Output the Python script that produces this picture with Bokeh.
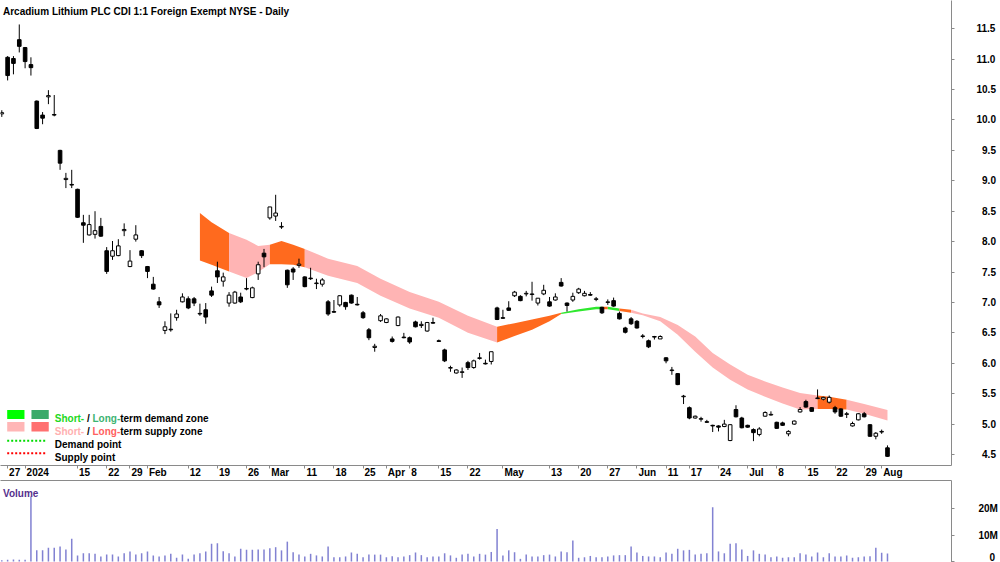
import numpy as np
import pandas as pd
from bokeh.plotting import figure
from bokeh.layouts import column
from bokeh.models import Range1d, LinearAxis, FixedTicker, Label
from bokeh.embed import file_html
from bokeh.resources import INLINE

# ---------------- data ----------------
holidays = ["2023-12-25", "2023-12-26", "2024-01-01", "2024-01-26",
            "2024-03-29", "2024-04-01", "2024-04-25", "2024-06-10"]
dates = [d.strftime("%Y-%m-%d") for d in pd.bdate_range("2023-12-22", "2024-08-02")
         if d.strftime("%Y-%m-%d") not in holidays]

opens = [10.10, 11.03, 11.01, 11.32, 11.19, 10.91, 10.31, 10.08, 10.38, 10.09,
         9.50, 9.02, 8.94, 8.86, 8.31, 8.11, 8.12, 8.25, 7.85, 7.76,
         7.77, 8.18, 7.59, 8.04, 7.85, 7.59, 7.30, 7.01, 6.54, 6.56,
         6.75, 7.01, 7.06, 7.06, 6.82, 6.88, 7.19, 7.52, 7.35, 6.99,
         6.99, 7.09, 7.23, 7.08, 7.47, 7.81, 8.39, 8.42, 8.24, 7.53,
         7.55, 7.61, 7.42, 7.40, 7.31, 7.30, 7.01, 6.85, 6.96, 7.00,
         7.12, 6.97, 6.83, 6.55, 6.26, 6.70, 6.67, 6.40, 6.62, 6.43,
         6.42, 6.68, 6.62, 6.53, 6.67, 6.37, 6.22, 5.92, 5.84, 5.85,
         6.01, 5.93, 6.08, 6.00, 6.03, 6.91, 6.75, 6.91, 7.11, 7.10,
         7.14, 7.13, 6.99, 7.14, 7.01, 7.04, 7.33, 6.99, 7.04, 7.16,
         7.11, 7.13, 7.05, 6.92, 7.00, 7.03, 6.82, 6.58, 6.73, 6.69,
         6.44, 6.37, 6.44, 6.40, 6.09, 5.88, 5.83, 5.45, 5.27, 5.10,
         5.08, 5.04, 4.98, 4.97, 4.96, 4.73, 5.24, 5.10, 4.98, 4.91,
         4.83, 5.13, 5.15, 5.03, 5.02, 4.84, 5.00, 5.20, 5.37, 5.27,
         5.42, 5.41, 5.36, 5.27, 5.25, 5.16, 4.97, 5.07, 5.17, 4.99,
         4.80, 4.87, 4.61]
highs = [10.16, 11.05, 11.05, 11.57, 11.20, 11.03, 10.32, 10.13, 10.49, 10.41,
         9.51, 9.13, 9.18, 8.87, 8.44, 8.44, 8.50, 8.39, 7.91, 8.01,
         8.04, 8.30, 7.86, 8.27, 7.86, 7.60, 7.42, 7.09, 6.69, 6.82,
         6.88, 7.15, 7.10, 7.09, 6.98, 6.99, 7.26, 7.67, 7.49, 7.17,
         7.19, 7.16, 7.40, 7.26, 7.67, 7.88, 8.57, 8.77, 8.32, 7.54,
         7.58, 7.72, 7.43, 7.57, 7.39, 7.40, 7.04, 7.04, 7.12, 7.01,
         7.13, 7.09, 6.86, 6.58, 6.32, 6.81, 6.74, 6.44, 6.77, 6.50,
         6.44, 6.70, 6.69, 6.68, 6.75, 6.39, 6.24, 5.96, 5.90, 5.93,
         6.04, 6.06, 6.17, 6.06, 6.19, 6.93, 6.88, 7.02, 7.19, 7.12,
         7.19, 7.34, 7.07, 7.29, 7.09, 7.15, 7.40, 7.00, 7.16, 7.24,
         7.19, 7.17, 7.09, 6.93, 7.05, 7.08, 6.85, 6.60, 6.76, 6.71,
         6.48, 6.39, 6.45, 6.46, 6.10, 5.94, 5.84, 5.48, 5.29, 5.14,
         5.12, 5.07, 4.99, 4.98, 5.07, 5.00, 5.31, 5.12, 4.99, 4.93,
         4.95, 5.21, 5.21, 5.04, 5.04, 4.90, 5.06, 5.28, 5.40, 5.28,
         5.57, 5.45, 5.47, 5.30, 5.26, 5.20, 5.04, 5.18, 5.20, 5.00,
         4.87, 4.91, 4.65]
lows = [10.05, 10.65, 10.75, 11.11, 10.85, 10.73, 9.85, 9.93, 10.26, 10.06,
        9.18, 8.88, 8.88, 8.39, 7.98, 8.10, 8.05, 8.08, 7.47, 7.70,
        7.76, 8.09, 7.58, 8.00, 7.73, 7.40, 7.21, 6.91, 6.48, 6.52,
        6.70, 7.00, 6.89, 6.94, 6.78, 6.65, 7.09, 7.32, 7.26, 6.93,
        6.98, 6.99, 7.20, 7.07, 7.37, 7.58, 8.36, 8.34, 8.21, 7.24,
        7.37, 7.57, 7.25, 7.37, 7.22, 7.26, 6.78, 6.83, 6.93, 6.88,
        6.98, 6.95, 6.73, 6.38, 6.19, 6.68, 6.66, 6.34, 6.61, 6.41,
        6.32, 6.59, 6.58, 6.52, 6.65, 6.35, 6.02, 5.86, 5.83, 5.76,
        5.89, 5.91, 6.06, 5.98, 5.98, 6.71, 6.73, 6.86, 7.09, 7.02,
        7.10, 7.03, 6.95, 7.12, 6.93, 7.03, 7.26, 6.85, 7.01, 7.14,
        7.10, 7.11, 7.02, 6.81, 6.96, 6.93, 6.72, 6.49, 6.63, 6.57,
        6.41, 6.25, 6.39, 6.40, 6.00, 5.81, 5.64, 5.33, 5.08, 5.09,
        5.04, 5.02, 4.87, 4.88, 4.95, 4.72, 5.11, 4.93, 4.94, 4.72,
        4.80, 5.12, 5.14, 4.92, 4.97, 4.80, 4.99, 5.19, 5.27, 5.20,
        5.41, 5.39, 5.34, 5.17, 5.12, 5.10, 4.96, 5.06, 5.11, 4.79,
        4.75, 4.84, 4.46]
closes = [10.12, 10.73, 10.93, 11.21, 10.96, 10.86, 9.86, 10.03, 10.40, 10.08,
          9.29, 9.04, 8.93, 8.40, 8.27, 8.28, 8.18, 8.09, 7.51, 7.85,
          7.93, 8.20, 7.68, 8.11, 7.77, 7.51, 7.22, 6.96, 6.60, 6.55,
          6.81, 7.09, 6.91, 6.99, 6.81, 6.76, 7.12, 7.42, 7.42, 7.12,
          7.17, 7.01, 7.22, 7.24, 7.62, 7.75, 8.57, 8.47, 8.25, 7.29,
          7.50, 7.63, 7.26, 7.39, 7.32, 7.37, 6.81, 6.84, 7.11, 6.93,
          6.99, 6.96, 6.75, 6.42, 6.28, 6.78, 6.73, 6.36, 6.76, 6.42,
          6.35, 6.60, 6.64, 6.67, 6.66, 6.36, 6.04, 5.93, 5.89, 5.86,
          5.93, 6.04, 6.09, 5.99, 6.19, 6.72, 6.74, 6.87, 7.17, 7.03,
          7.15, 7.14, 7.07, 7.20, 6.94, 7.09, 7.27, 6.95, 7.10, 7.22,
          7.15, 7.12, 7.06, 6.83, 7.01, 6.94, 6.73, 6.51, 6.65, 6.58,
          6.45, 6.27, 6.43, 6.44, 6.04, 5.89, 5.65, 5.46, 5.10, 5.13,
          5.09, 5.03, 4.97, 4.95, 5.00, 4.99, 5.12, 4.94, 4.95, 4.86,
          4.92, 5.19, 5.16, 4.93, 4.98, 4.88, 5.05, 5.24, 5.28, 5.21,
          5.43, 5.44, 5.44, 5.20, 5.13, 5.17, 5.01, 5.17, 5.12, 4.80,
          4.85, 4.88, 4.47]
volume_m = [0.5, 0.7, 0.8, 0.7, 0.7, 24.5, 4.2, 4.2, 5.2, 5.2,
            5.7, 4.5, 8.6, 2.3, 3.1, 3.1, 2.9, 1.9, 2.6, 2.6,
            1.9, 3.1, 3.8, 2.6, 3.1, 3.8, 2.3, 1.9, 2.3, 2.9,
            1.4, 2.6, 1.0, 2.6, 3.1, 3.8, 6.7, 6.9, 3.9, 3.1,
            1.9, 4.8, 4.4, 4.4, 4.5, 4.5, 5.0, 5.4, 4.2, 7.5,
            3.5, 2.6, 1.9, 2.9, 2.3, 1.9, 5.7, 1.6, 1.6, 1.9,
            3.4, 2.9, 1.6, 2.6, 2.6, 2.6, 1.6, 2.0, 1.6, 1.9,
            2.4, 3.4, 2.4, 1.6, 1.9, 1.9, 3.1, 2.3, 1.4, 2.6,
            2.9, 1.9, 2.9, 2.6, 3.6, 12.3, 2.3, 4.2, 3.5, 1.0,
            2.6, 1.9, 1.9, 2.4, 2.6, 1.9, 3.8, 3.5, 7.9, 1.4,
            1.6, 2.1, 1.6, 1.6, 1.9, 2.3, 2.4, 2.4, 5.7, 3.4,
            2.1, 1.9, 1.9, 1.6, 3.4, 2.9, 4.8, 4.2, 4.4, 2.6,
            2.9, 3.1, 20.5, 3.8, 3.1, 6.7, 6.9, 4.5, 2.1, 4.2,
            2.9, 2.6, 1.6, 1.9, 1.4, 1.6, 1.6, 3.1, 2.6, 1.9,
            3.4, 1.6, 3.1, 1.9, 1.9, 2.3, 1.4, 1.6, 1.9, 2.0,
            5.2, 3.3, 3.0]

# supply / demand band (trading-day index, upper and lower edge)
band_day = [34, 36, 39, 42, 44, 46, 48, 50, 52, 56, 61, 65, 70, 75, 80, 85, 88, 91, 94, 96,
            99, 102, 103, 104, 106, 108, 110, 113, 116, 119, 122, 125, 128, 131, 134, 137,
            140, 142, 145, 148, 152]
band_top = [8.47, 8.32, 8.14, 8.03, 7.93, 7.95, 8.01, 7.95, 7.88, 7.72, 7.60, 7.39, 7.17,
            7.01, 6.78, 6.60, 6.66, 6.72, 6.78, 6.83, 6.89, 6.93, 6.93, 6.93, 6.90, 6.88,
            6.82, 6.76, 6.63, 6.44, 6.17, 5.98, 5.81, 5.70, 5.60, 5.51, 5.47, 5.45, 5.40,
            5.33, 5.23]
band_bot = [7.69, 7.62, 7.51, 7.40, 7.50, 7.63, 7.63, 7.62, 7.58, 7.44, 7.32, 7.11, 6.90,
            6.75, 6.50, 6.34, 6.45, 6.55, 6.69, 6.81, 6.85, 6.89, 6.89, 6.89, 6.86, 6.83,
            6.79, 6.69, 6.47, 6.19, 5.93, 5.73, 5.57, 5.45, 5.34, 5.24, 5.25, 5.25, 5.24,
            5.17, 5.06]
zone_start = [34, 39, 46, 52, 85, 96, 103, 104, 106, 108, 140, 145]
zone_end = [39, 46, 52, 85, 96, 103, 104, 106, 108, 140, 145, 152]
zone_kind = ["long", "short", "long", "short", "long", "demand", "long", "demand",
             "long", "short", "long", "short"]

tick_dates = ["2023-12-27", "2024-01-02", "2024-01-15", "2024-01-22", "2024-01-29",
              "2024-02-01", "2024-02-12", "2024-02-19", "2024-02-26", "2024-03-01",
              "2024-03-11", "2024-03-18", "2024-03-25", "2024-04-02", "2024-04-08",
              "2024-04-15", "2024-04-22", "2024-05-01", "2024-05-13", "2024-05-20",
              "2024-05-27", "2024-06-03", "2024-06-11", "2024-06-17", "2024-06-24",
              "2024-07-01", "2024-07-08", "2024-07-15", "2024-07-22", "2024-07-29",
              "2024-08-01"]
tick_labels = ["27", "2024", "15", "22", "29", "Feb", "12", "19", "26", "Mar", "11", "18",
               "25", "Apr", "8", "15", "22", "May", "13", "20", "27", "Jun", "11", "17",
               "24", "Jul", "8", "15", "22", "29", "Aug"]
price_ticks = [4.5, 5.0, 5.5, 6.0, 6.5, 7.0, 7.5, 8.0, 8.5, 9.0, 9.5, 10.0, 10.5, 11.0, 11.5]
volume_ticks = [0, 10_000_000, 20_000_000]
volume_tick_labels = ["0", "10M", "20M"]

TITLE = "Arcadium Lithium PLC CDI 1:1 Foreign Exempt NYSE - Daily"

# ---------------- styling / layout helpers ----------------
FONT = "Liberation Sans"
GRAY = "#8a8a8a"
FSP = "\u2007"  # figure space (digit width) for right-aligned tick labels
ZONE_COL = {"long": "#ff6a1e", "short": "#ffb4b4", "demand": "#2ee82e"}

X0, PXI = 1.3, 5.833          # canvas px of day 0, px per trading day
def px2i(px):
    return (px - X0) / PXI
def py2p(py):
    return 4.5 + (455 - py) / 60.96
def py2v(py):
    return (561 - py) / 2.649 * 1e6

AW = {c: 556 for c in "0123456789"}
AW.update({"J": 556, "a": 556, "n": 611, "F": 611, "e": 556, "b": 611, "M": 833, "r": 389,
           "A": 722, "p": 611, "y": 556, "u": 611, "l": 278, "g": 611})
def tw(s, size=10):
    return sum(AW.get(c, 556) for c in s) * size / 1000.0

idx = np.arange(len(dates))
O = np.array(opens); H = np.array(highs); L = np.array(lows); C = np.array(closes)
up = C >= O
dn = ~up

xr = Range1d(px2i(0), px2i(952))

# ---------------- price figure ----------------
p = figure(width=1000, height=480, x_range=xr, y_range=Range1d(py2p(466), py2p(0)),
           output_backend="svg", toolbar_location=None,
           x_axis_location=None, y_axis_location="right",
           min_border_left=0, min_border_right=48, min_border_top=0, min_border_bottom=14)
p.grid.visible = False
p.outline_line_color = None
p.background_fill_color = "white"
p.border_fill_color = "white"

ya = p.yaxis[0]
ya.ticker = FixedTicker(ticks=price_ticks)
ya.major_label_overrides = {t: (f"{t:.1f}" if t >= 10 else FSP + f"{t:.1f}") for t in price_ticks}
ya.axis_line_color = GRAY
ya.major_tick_line_color = GRAY
ya.major_tick_out = 3
ya.major_tick_in = 0
ya.minor_tick_line_color = None
ya.major_label_standoff = 22
ya.major_label_text_font = FONT
ya.major_label_text_font_size = "10px"
ya.major_label_text_font_style = "bold"
ya.major_label_text_color = "#000000"

# x axis: tick marks
tick_idx = [dates.index(d) for d in tick_dates]
axA = LinearAxis(ticker=FixedTicker(ticks=tick_idx),
                 major_label_overrides={t: "" for t in tick_idx},
                 major_label_text_font_size="0px", major_label_standoff=0,
                 major_tick_out=3, major_tick_in=0,
                 axis_line_color=GRAY, major_tick_line_color=GRAY,
                 minor_tick_line_color=None)
p.add_layout(axA, "below")
# x axis: labels (left-aligned just right of the tick)
lab_pos = [round(t + (1.5 + tw(s) / 2) / PXI, 4) for t, s in zip(tick_idx, tick_labels)]
axB = LinearAxis(ticker=FixedTicker(ticks=lab_pos),
                 major_label_overrides={pp: s for pp, s in zip(lab_pos, tick_labels)},
                 major_label_standoff=-2, major_tick_out=0, major_tick_in=0,
                 axis_line_color=None, major_tick_line_color=None,
                 minor_tick_line_color=None,
                 major_label_text_font=FONT, major_label_text_font_size="10px",
                 major_label_text_font_style="bold", major_label_text_color="#000000")
p.add_layout(axB, "below")

# zones
for s, e, k in zip(zone_start, zone_end, zone_kind):
    sel = [j for j, d in enumerate(band_day) if s <= d <= e]
    p.varea(x=[band_day[j] for j in sel], y1=[band_bot[j] for j in sel],
            y2=[band_top[j] for j in sel], fill_color=ZONE_COL[k], fill_alpha=1.0)

# candles
p.segment(x0=idx, y0=L, x1=idx, y1=H, line_color="black", line_width=1)
p.vbar(x=idx[up], width=0.62, bottom=O[up], top=C[up], fill_color="white",
       line_color="black", line_width=1)
p.vbar(x=idx[dn], width=0.62, bottom=C[dn], top=O[dn], fill_color="black",
       line_color="black", line_width=1)

# title
p.add_layout(Label(x=px2i(2.5), y=py2p(10.7), text=TITLE, text_font=FONT,
                   text_font_size="10px", text_font_style="bold", text_color="#000000",
                   text_align="left", text_baseline="alphabetic"))

# legend (drawn as annotations in the lower left)
p.quad(left=[px2i(6.7), px2i(31)], right=[px2i(24), px2i(48.3)],
       top=[py2p(410.3)] * 2, bottom=[py2p(419.5)] * 2,
       fill_color=["#00ff00", "#3aaa6a"], line_color=None)
p.quad(left=[px2i(6.7), px2i(31)], right=[px2i(24), px2i(48.3)],
       top=[py2p(422.5)] * 2, bottom=[py2p(432)] * 2,
       fill_color=["#ffb6b6", "#ff7070"], line_color=None)
p.line(x=[px2i(6.7), px2i(45)], y=[py2p(441.3)] * 2, line_color="#00dd00",
       line_width=2, line_dash="2 2")
p.line(x=[px2i(6.7), px2i(45)], y=[py2p(453.8)] * 2, line_color="#ff0000",
       line_width=2, line_dash="2 2")

def leg_text(parts, x_px, base_py):
    x = x_px
    for txt, col in parts:
        if txt == "/":
            p.add_layout(Label(x=px2i(x + 2.78), y=py2p(base_py), text="/", text_font=FONT,
                               text_font_size="10px", text_font_style="bold",
                               text_color=col, text_align="left", text_baseline="alphabetic"))
            x += 8.34
        else:
            p.add_layout(Label(x=px2i(x), y=py2p(base_py), text=txt, text_font=FONT,
                               text_font_size="10px", text_font_style="bold",
                               text_color=col, text_align="left", text_baseline="alphabetic"))
            x += {"Short-": 29.44, "Long-": 27.77}.get(txt, 0)

leg_text([("Short-", "#22d822"), ("/", "#000000"), ("Long-", "#3cb371"),
          ("term demand zone", "#000000")], 54.3, 419.3)
leg_text([("Short-", "#ffb0b0"), ("/", "#000000"), ("Long-", "#ff6060"),
          ("term supply zone", "#000000")], 54.3, 431.6)
leg_text([("Demand point", "#000000")], 54.3, 445.0)
leg_text([("Supply point", "#000000")], 54.3, 457.6)

# ---------------- volume figure ----------------
pv = figure(width=1000, height=82, x_range=xr, y_range=Range1d(py2v(562), py2v(480)),
            output_backend="svg", toolbar_location=None,
            x_axis_location=None, y_axis_location="right",
            min_border_left=0, min_border_right=48, min_border_top=0, min_border_bottom=0)
pv.grid.visible = False
pv.outline_line_color = None
pv.background_fill_color = "white"
pv.border_fill_color = "white"
va = pv.yaxis[0]
va.ticker = FixedTicker(ticks=volume_ticks)
va.major_label_overrides = {t: (FSP * 2 + s if len(s) == 1 else s)
                            for t, s in zip(volume_ticks, volume_tick_labels)}
va.axis_line_color = GRAY
va.major_tick_line_color = GRAY
va.major_tick_out = 3
va.major_tick_in = 0
va.minor_tick_line_color = None
va.major_label_standoff = 24
va.major_label_text_font = FONT
va.major_label_text_font_size = "10px"
va.major_label_text_font_style = "bold"
va.major_label_text_color = "#000000"

top_ax = LinearAxis(ticker=FixedTicker(ticks=[]), major_label_text_font_size="0px",
                    major_label_standoff=0, major_tick_out=0, major_tick_in=0,
                    axis_line_color=GRAY, minor_tick_line_color=None)
pv.add_layout(top_ax, "above")

pv.vbar(x=idx, width=0.26, bottom=0, top=np.array(volume_m) * 1e6,
        fill_color="#8282d2", line_color=None)
pv.add_layout(Label(x=px2i(2.5), y=py2v(493.3), text="Volume", text_font=FONT,
                    text_font_size="10px", text_font_style="bold", text_color="#55308d",
                    text_align="left", text_baseline="alphabetic"))

layout = column(p, pv, spacing=0)
open("out.html", "w").write(file_html(layout, INLINE, title="Arcadium Lithium"))
